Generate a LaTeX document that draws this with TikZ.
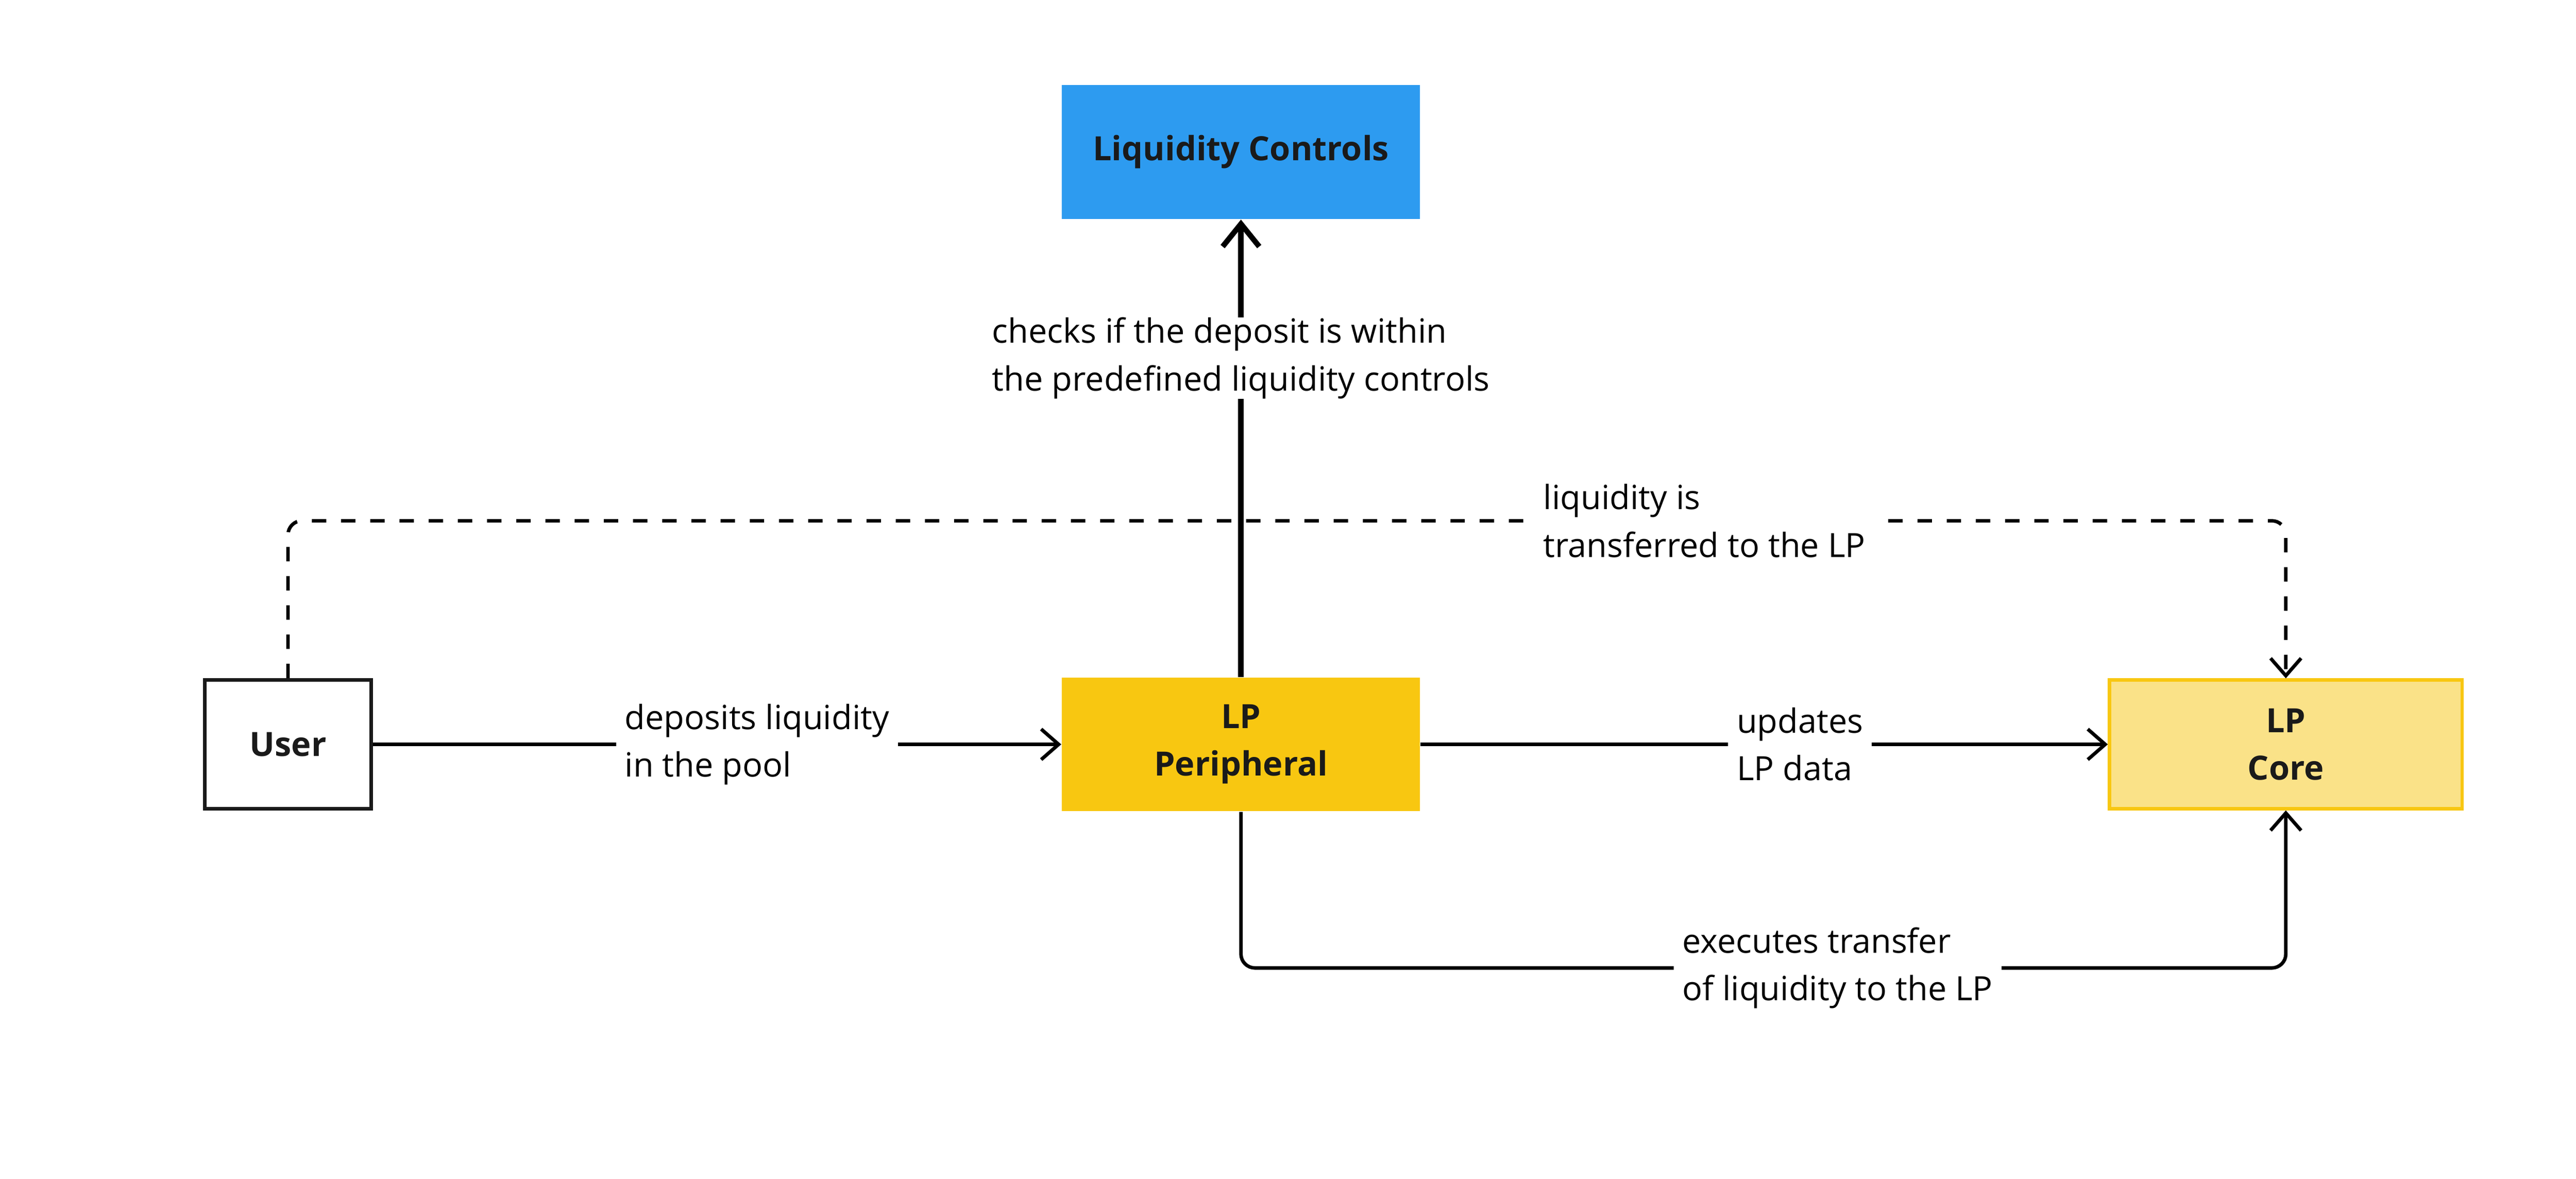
\documentclass[tikz,border=0pt]{standalone}
\usepackage{fontspec}
\setmainfont{Open Sans}
\usetikzlibrary{arrows.meta}
\definecolor{lcblue}{HTML}{2D9BF0}
\definecolor{lpyellow}{HTML}{F8C711}
\definecolor{coreyellow}{HTML}{FAE288}
\definecolor{txtgray}{HTML}{1A1A1A}
\newcommand{\labelfont}{\fontsize{10.9pt}{15.5pt}\selectfont}
\tikzset{
    box/.style={minimum width=4.11cm,minimum height=1.535cm,inner sep=0pt,align=center,
        text=txtgray,font=\labelfont\bfseries},
    lbl/.style={fill=white,align=left,inner xsep=0.1cm,inner ysep=0pt,font=\labelfont},
    flow/.style={line width=0.04cm,-{Straight Barb[length=0.2cm,width=0.35cm]}},
    thickflow/.style={line width=0.062cm,-{Straight Barb[length=0.26cm,width=0.42cm]}},
    dashflow/.style={flow,dash pattern=on 0.165cm off 0.17cm,rounded corners=0.16cm},
}
\begin{document}
\begin{tikzpicture}
        \useasboundingbox (0,0) rectangle (29.56,13.525);
        \node[box,fill=lcblue] (controls) at (14.24,11.78) {Liquidity Controls};
        \node[box,fill=white,draw=txtgray,line width=0.04cm,minimum width=1.91cm,minimum height=1.48cm] (user) at (3.305,4.985) {User};
        \node[box,fill=lpyellow] (peripheral) at (14.24,4.985) {LP\\Peripheral};
        \node[box,fill=coreyellow,draw=lpyellow,line width=0.04cm,minimum width=4.045cm,minimum height=1.475cm] (core) at (26.23,4.985) {LP\\Core};
        \coordinate (toplevel) at (0,7.55);
        \coordinate (bottomlevel) at (0,2.42);
        \draw[flow] (user) -- node[lbl,pos=0.558] {deposits liquidity\\in the pool} (peripheral);
        \draw[flow] (peripheral) -- node[lbl,pos=0.552] {updates\\LP data} (core);
        \draw[thickflow] (peripheral) -- node[lbl,pos=0.697] {checks if the deposit is within\\the predefined liquidity controls} (controls);
        \draw[dashflow] (user.north) -- (user.north |- toplevel) -- node[lbl,pos=0.709] {liquidity is\\transferred to the LP} (core.north |- toplevel) -- (core.north);
        \draw[flow,rounded corners=0.16cm] (peripheral.south) -- (peripheral.south |- bottomlevel) -- node[lbl,pos=0.571] {executes transfer\\of liquidity to the LP} (core.south |- bottomlevel) -- (core.south);
    \end{tikzpicture}
\end{document}
